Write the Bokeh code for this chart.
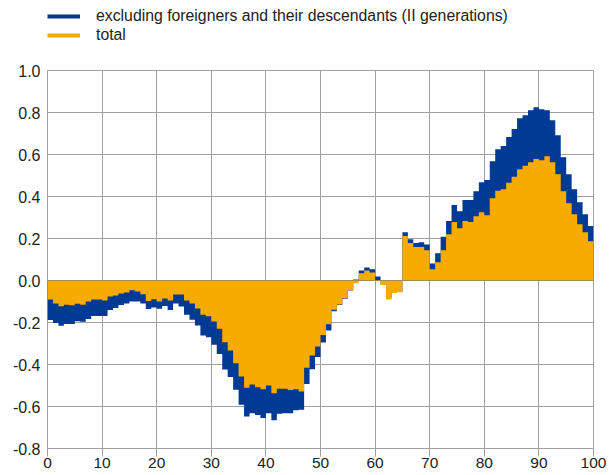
import math
from bokeh.plotting import figure
from bokeh.layouts import column
from bokeh.models import Range1d, FixedTicker, NumeralTickFormatter, Legend, LegendItem
from bokeh.embed import file_html
from bokeh.resources import INLINE

# ---- data -------------------------------------------------------------
ages = list(range(100))

total = [
    -0.090, -0.109, -0.123, -0.115, -0.118, -0.111, -0.115, -0.100, -0.090, -0.090,
    -0.095, -0.076, -0.071, -0.062, -0.057, -0.047, -0.052, -0.066, -0.098, -0.089,
    -0.100, -0.086, -0.095, -0.067, -0.067, -0.095, -0.110, -0.133, -0.163, -0.170,
    -0.195, -0.230, -0.294, -0.333, -0.394, -0.457, -0.511, -0.495, -0.508, -0.518,
    -0.500, -0.537, -0.515, -0.516, -0.522, -0.518, -0.529, -0.416, -0.357, -0.314,
    -0.259, -0.208, -0.139, -0.114, -0.085, -0.047, -0.013, 0.034, 0.048, 0.038,
    -0.002, -0.022, -0.090, -0.059, -0.056, 0.212, 0.179, 0.160, 0.160, 0.144,
    0.053, 0.087, 0.144, 0.220, 0.278, 0.249, 0.283, 0.278, 0.306, 0.325,
    0.311, 0.392, 0.427, 0.435, 0.465, 0.494, 0.530, 0.546, 0.563, 0.578,
    0.573, 0.592, 0.563, 0.506, 0.425, 0.368, 0.316, 0.268, 0.230, 0.187,
]

excl = [
    -0.188, -0.202, -0.216, -0.207, -0.207, -0.194, -0.197, -0.183, -0.169, -0.169,
    -0.169, -0.141, -0.131, -0.117, -0.110, -0.100, -0.100, -0.109, -0.136, -0.128,
    -0.135, -0.122, -0.141, -0.110, -0.124, -0.163, -0.187, -0.214, -0.262, -0.270,
    -0.306, -0.350, -0.424, -0.460, -0.520, -0.592, -0.648, -0.632, -0.640, -0.655,
    -0.632, -0.665, -0.634, -0.632, -0.632, -0.618, -0.616, -0.493, -0.423, -0.364,
    -0.295, -0.238, -0.147, -0.117, -0.087, -0.048, 0.005, 0.048, 0.062, 0.053,
    0.019, -0.020, -0.085, -0.055, -0.053, 0.230, 0.196, 0.179, 0.182, 0.172,
    0.081, 0.130, 0.208, 0.283, 0.359, 0.330, 0.383, 0.383, 0.425, 0.468,
    0.478, 0.568, 0.625, 0.640, 0.683, 0.721, 0.773, 0.787, 0.811, 0.825,
    0.816, 0.811, 0.763, 0.692, 0.587, 0.506, 0.435, 0.373, 0.316, 0.259,
]

x_ticks = [0, 10, 20, 30, 40, 50, 60, 70, 80, 90, 100]
y_ticks = [-0.8, -0.6, -0.4, -0.2, 0.0, 0.2, 0.4, 0.6, 0.8, 1.0]
series_labels = ["excluding foreigners and their descendants (II generations)", "total"]

# ---- style --------------------------------------------------------------
BLUE = "#003a94"
ORANGE = "#f7ab00"
GRID = "#a0a0a0"
TEXT = "#222222"
FONT = "Liberation Sans"

# ---- legend strip (top) -------------------------------------------------
lg = figure(width=616, height=60, output_backend="svg", toolbar_location=None,
            x_range=Range1d(0, 1), y_range=Range1d(0, 1),
            x_axis_type=None, y_axis_type=None, min_border=0)
lg.outline_line_color = None
lb = lg.line(x=[math.nan], y=[math.nan], line_color=BLUE, line_width=4)
lo = lg.line(x=[math.nan], y=[math.nan], line_color=ORANGE, line_width=4)
legend = Legend(items=[LegendItem(label=series_labels[0], renderers=[lb]),
                       LegendItem(label=series_labels[1], renderers=[lo])],
                location=(0, 16), orientation="vertical",
                glyph_width=33, glyph_height=18, label_height=18,
                label_standoff=16, spacing=1, padding=0, margin=0,
                border_line_color=None, background_fill_alpha=0,
                label_text_font=FONT, label_text_font_size="15.8px",
                label_text_color=TEXT)
lg.add_layout(legend)

# ---- main chart ---------------------------------------------------------
p = figure(width=616, height=415, output_backend="svg", toolbar_location=None,
           x_range=Range1d(0, 100), y_range=Range1d(-0.8, 1.0),
           min_border_left=47, min_border_right=23, min_border_top=10,
           min_border_bottom=27)

# one bar per age, drawn as contiguous step areas (bars of width 1)
edges = ages + [ages[-1] + 1]
p.varea_step(x=edges, y1=[0] * len(edges), y2=excl + [excl[-1]],
             step_mode="after", fill_color=BLUE)
p.varea_step(x=edges, y1=[0] * len(edges), y2=total + [total[-1]],
             step_mode="after", fill_color=ORANGE)

p.outline_line_color = GRID
p.xgrid.grid_line_color = GRID
p.ygrid.grid_line_color = GRID
p.xaxis.ticker = FixedTicker(ticks=x_ticks)
p.yaxis.ticker = FixedTicker(ticks=y_ticks)
p.yaxis.formatter = NumeralTickFormatter(format="0.0")

p.xaxis.axis_line_color = None
p.xaxis.major_tick_line_color = GRID
p.xaxis.major_tick_out = 8
p.xaxis.major_tick_in = 0
p.xaxis.minor_tick_line_color = None
p.xaxis.major_label_standoff = 1
p.xaxis.major_label_text_font_size = "15.5px"

p.yaxis.axis_line_color = None
p.yaxis.major_tick_line_color = None
p.yaxis.major_tick_out = 0
p.yaxis.major_tick_in = 0
p.yaxis.minor_tick_line_color = None
p.yaxis.major_label_standoff = 7
p.yaxis.major_label_text_font_size = "16px"

for ax in (p.xaxis, p.yaxis):
    ax.major_label_text_font = FONT
    ax.major_label_text_color = TEXT

layout = column(lg, p, spacing=0)
open("out.html", "w").write(file_html(layout, INLINE))
